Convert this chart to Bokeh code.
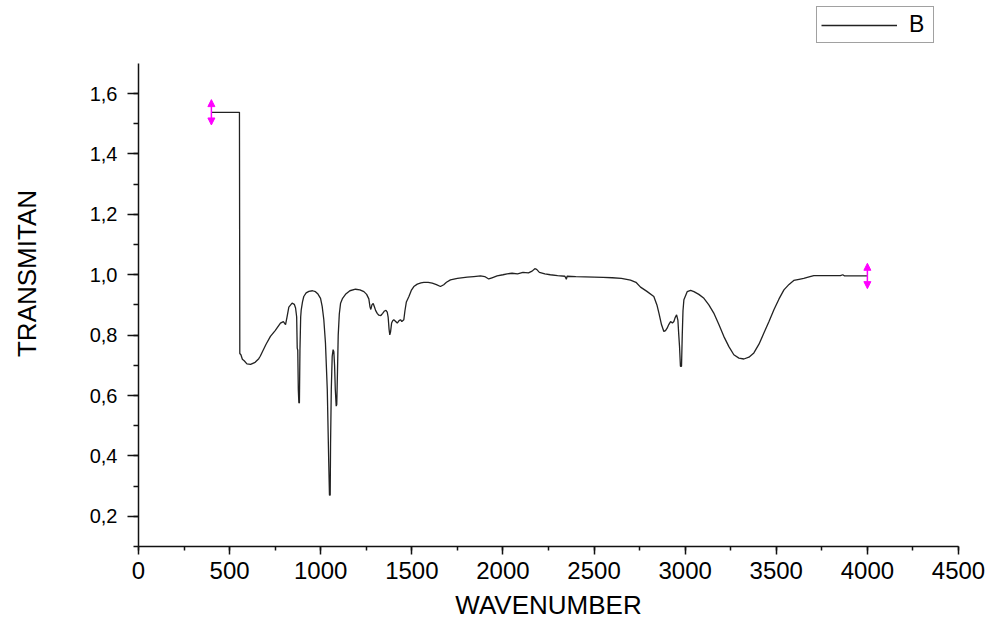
from bokeh.plotting import figure
from bokeh.models import (ColumnDataSource, Range1d, SingleIntervalTicker, CustomJSTickFormatter,
                          Legend, LegendItem, Arrow, NormalHead)
from bokeh.embed import file_html
from bokeh.resources import INLINE

# ---- data ----
wavenumber = [400, 554, 556, 562, 570, 580, 595, 615, 640, 660, 668, 680, 700, 724, 750, 779, 795, 807,
              815, 825, 843, 855, 862, 868, 871, 874, 877, 880, 883, 886, 890, 893, 900, 907, 920, 935,
              955, 971, 985, 999, 1008, 1017, 1026, 1036, 1044, 1048, 1052, 1054, 1058, 1063, 1068,
              1072, 1076, 1080, 1085, 1088, 1092, 1096, 1102, 1109, 1120, 1136, 1160, 1191, 1215, 1237,
              1252, 1264, 1270, 1275, 1281, 1288, 1295, 1301, 1310, 1319, 1330, 1340, 1350, 1358, 1365,
              1370, 1375, 1379, 1383, 1389, 1395, 1401, 1410, 1420, 1430, 1438, 1445, 1456, 1462, 1470,
              1484, 1497, 1511, 1530, 1550, 1566, 1590, 1612, 1635, 1657, 1675, 1690, 1712, 1750, 1804,
              1840, 1877, 1900, 1922, 1940, 1968, 2000, 2023, 2050, 2080, 2110, 2140, 2160, 2175, 2185,
              2200, 2230, 2260, 2300, 2340, 2348, 2352, 2400, 2450, 2500, 2550, 2600, 2650, 2700, 2730,
              2755, 2790, 2828, 2845, 2856, 2870, 2883, 2892, 2901, 2910, 2920, 2930, 2938, 2945, 2953,
              2960, 2965, 2969, 2974, 2980, 2984, 2988, 2993, 3011, 3030, 3048, 3075, 3103, 3130, 3157,
              3185, 3212, 3240, 3267, 3295, 3322, 3350, 3377, 3405, 3432, 3460, 3487, 3515, 3542, 3570,
              3596, 3625, 3651, 3680, 3706, 3750, 3800, 3852, 3865, 3875, 3900, 3950, 4000]
transmitan = [1.538, 1.538, 0.739, 0.735, 0.720, 0.715, 0.705, 0.703, 0.710, 0.722, 0.730, 0.745, 0.770,
              0.796, 0.815, 0.840, 0.845, 0.835, 0.860, 0.893, 0.906, 0.902, 0.890, 0.860, 0.757, 0.750,
              0.620, 0.576, 0.576, 0.750, 0.860, 0.884, 0.910, 0.928, 0.940, 0.945, 0.947, 0.944, 0.936,
              0.922, 0.895, 0.851, 0.774, 0.620, 0.378, 0.270, 0.270, 0.440, 0.620, 0.730, 0.752, 0.745,
              0.700, 0.620, 0.565, 0.570, 0.680, 0.800, 0.870, 0.906, 0.922, 0.935, 0.947, 0.952, 0.950,
              0.944, 0.935, 0.920, 0.895, 0.885, 0.900, 0.905, 0.893, 0.882, 0.872, 0.866, 0.865, 0.872,
              0.880, 0.882, 0.876, 0.860, 0.820, 0.801, 0.810, 0.840, 0.848, 0.851, 0.846, 0.840, 0.848,
              0.851, 0.845, 0.851, 0.880, 0.910, 0.928, 0.948, 0.961, 0.969, 0.973, 0.975, 0.975, 0.972,
              0.967, 0.961, 0.967, 0.975, 0.983, 0.988, 0.992, 0.994, 0.996, 0.994, 0.986, 0.990, 0.996,
              1.000, 1.003, 1.005, 1.003, 1.008, 1.006, 1.012, 1.020, 1.018, 1.008, 1.003, 1.000, 0.997,
              0.995, 0.985, 0.995, 0.994, 0.993, 0.992, 0.991, 0.990, 0.988, 0.982, 0.975, 0.959, 0.945,
              0.928, 0.900, 0.873, 0.835, 0.812, 0.815, 0.823, 0.835, 0.845, 0.840, 0.845, 0.858, 0.867,
              0.850, 0.800, 0.763, 0.697, 0.697, 0.800, 0.880, 0.917, 0.944, 0.948, 0.944, 0.935, 0.922,
              0.900, 0.873, 0.835, 0.796, 0.762, 0.735, 0.724, 0.721, 0.727, 0.741, 0.770, 0.807, 0.845,
              0.884, 0.920, 0.950, 0.968, 0.981, 0.985, 0.988, 0.993, 0.997, 0.997, 0.997, 0.997, 1.000,
              0.996, 0.996, 0.996, 0.996]
end_x = [400, 4000]
end_y = [1.538, 0.996]
series_name = "B"
x_label = "WAVENUMBER"
y_label = "TRANSMITAN"
y_axis_lo, y_axis_hi = 0.1, 1.7

FONT = "Liberation Sans"

# frame extends to the top of the canvas so the legend (drawn above the axis end) is not clipped;
# the y axis itself is bounded to 0.1..1.7
frame_top, axis_top, axis_bottom = 0, 63, 547
y_end = y_axis_lo + (y_axis_hi - y_axis_lo) * (axis_bottom - frame_top) / (axis_bottom - axis_top)

p = figure(width=992, height=622, output_backend="svg", toolbar_location=None,
           x_range=Range1d(0, 4500), y_range=Range1d(y_axis_lo, y_end),
           min_border_left=138, min_border_right=34, min_border_top=frame_top, min_border_bottom=74)
p.outline_line_color = None
p.xgrid.visible = False
p.ygrid.visible = False
p.background_fill_color = "white"

line = p.line(wavenumber, transmitan, line_color="#222222", line_width=1.3)

# end markers (magenta double arrows)
half = 0.042
src = ColumnDataSource(dict(x=end_x, y0=[v - half for v in end_y], y1=[v + half for v in end_y]))
p.add_layout(Arrow(source=src, x_start="x", y_start="y0", x_end="x", y_end="y1",
                   line_color="#ff00ff", line_width=1.5,
                   start=NormalHead(size=7, fill_color="#ff00ff", line_color="#ff00ff"),
                   end=NormalHead(size=7, fill_color="#ff00ff", line_color="#ff00ff")))

fmt = CustomJSTickFormatter(code="return tick.toFixed(1).replace('.', ',');")
p.yaxis.ticker = SingleIntervalTicker(interval=0.2, num_minor_ticks=2)
p.yaxis.formatter = fmt
p.yaxis.bounds = (y_axis_lo, y_axis_hi)
p.xaxis.ticker = SingleIntervalTicker(interval=500, num_minor_ticks=2)

for ax in (p.xaxis, p.yaxis):
    ax.axis_line_color = "#111111"
    ax.axis_line_width = 1.5
    ax.major_tick_line_color = "#111111"
    ax.minor_tick_line_color = "#111111"
    ax.major_tick_line_width = 1.5
    ax.minor_tick_line_width = 1.5
    ax.major_tick_in = 0
    ax.minor_tick_in = 0
    ax.major_label_text_font = FONT
    ax.major_label_text_color = "black"
    ax.axis_label_text_font = FONT
    ax.axis_label_text_font_style = "normal"
    ax.axis_label_text_color = "black"

p.yaxis.major_tick_out = 11
p.yaxis.minor_tick_out = 5
p.yaxis.major_label_text_font_size = "20px"
p.yaxis.major_label_standoff = 10
p.yaxis.axis_label = y_label
p.yaxis.axis_label_text_font_size = "26px"
p.yaxis.axis_label_standoff = 45

p.xaxis.major_tick_out = 8
p.xaxis.minor_tick_out = 4
p.xaxis.major_label_text_font_size = "24px"
p.xaxis.major_label_standoff = 7
p.xaxis.axis_label = x_label
p.xaxis.axis_label_text_font_size = "26px"
p.xaxis.axis_label_standoff = 8

legend = Legend(items=[LegendItem(label=series_name, renderers=[line])],
                location=(678, 503), orientation="vertical",
                glyph_width=76, glyph_height=22, label_height=22, label_standoff=12,
                padding=4, margin=0, spacing=0,
                label_text_font=FONT, label_text_font_size="23px", label_text_color="black",
                border_line_color="#444444", border_line_width=1.5,
                background_fill_color="white", background_fill_alpha=1.0)
p.add_layout(legend, "center")

open("out.html", "w").write(file_html(p, INLINE))
